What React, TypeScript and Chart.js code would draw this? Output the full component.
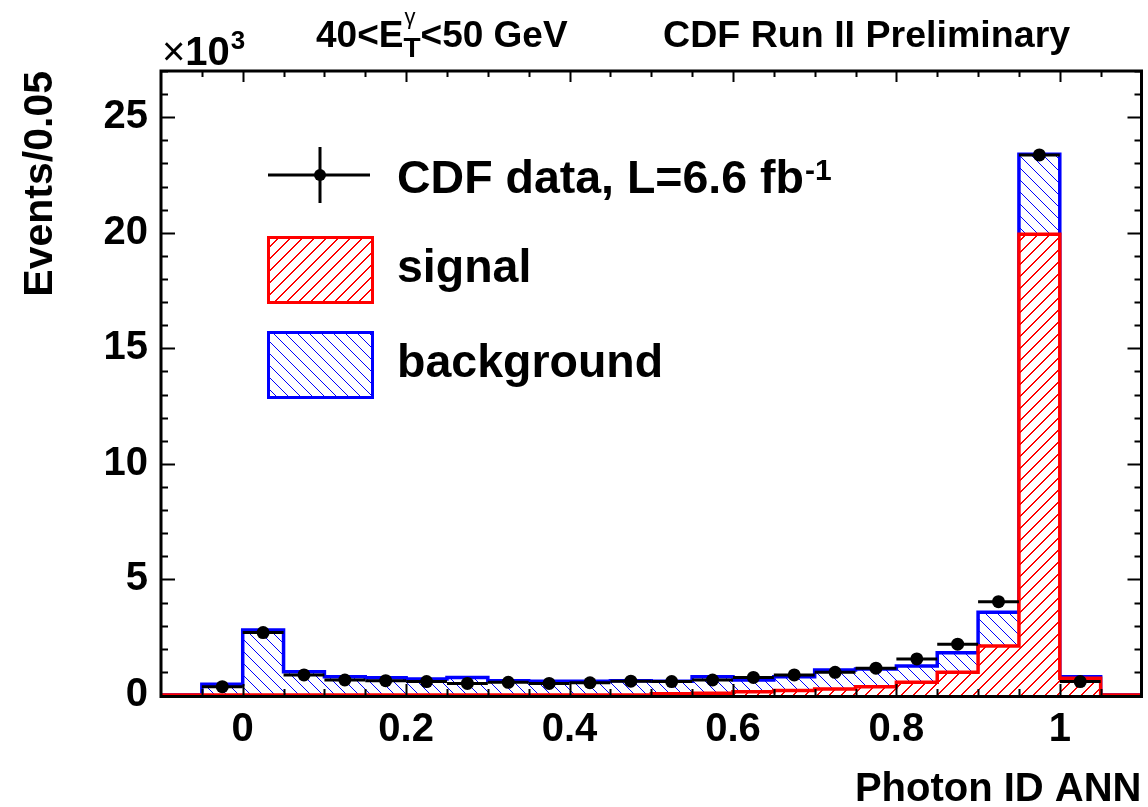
import React, { useEffect, useRef } from 'react';
import { Chart, registerables } from 'chart.js';

Chart.register(...registerables);

// ---------- data (values in units of 10^3 events per 0.05 bin) ----------
const binEdges = [-0.1, -0.05, 0, 0.05, 0.1, 0.15, 0.2, 0.25, 0.3, 0.35, 0.4, 0.45, 0.5, 0.55, 0.6, 0.65, 0.7, 0.75, 0.8, 0.85, 0.9, 0.95, 1.0, 1.05, 1.1];
const signalValues = [0, 0, 0, 0, 0, 0, 0, 0, 0, 0, 0, 0, 0.05, 0.08, 0.14, 0.19, 0.26, 0.36, 0.55, 0.98, 2.12, 19.94, 0.72, 0];
const backgroundValues = [0, 0.46, 2.81, 1.01, 0.79, 0.75, 0.69, 0.76, 0.62, 0.59, 0.59, 0.62, 0.55, 0.71, 0.51, 0.6, 0.82, 0.76, 0.7, 0.85, 1.46, 3.46, 0.07, 0];
const dataCenters = [-0.025, 0.025, 0.075, 0.125, 0.175, 0.225, 0.275, 0.325, 0.375, 0.425, 0.475, 0.525, 0.575, 0.625, 0.675, 0.725, 0.775, 0.825, 0.875, 0.925, 0.975, 1.025];
const dataValues = [0.36, 2.7, 0.87, 0.65, 0.62, 0.58, 0.5, 0.55, 0.5, 0.53, 0.6, 0.58, 0.65, 0.76, 0.87, 0.98, 1.16, 1.56, 2.2, 4.04, 23.37, 0.58];
const dataHalfWidth = 0.025;

const xTickValues = [0, 0.2, 0.4, 0.6, 0.8, 1];
const xTickLabels = ['0', '0.2', '0.4', '0.6', '0.8', '1'];
const yTickValues = [0, 5, 10, 15, 20, 25];
const yTickLabels = ['0', '5', '10', '15', '20', '25'];

const FONT = '"Liberation Sans", Arial, Helvetica, sans-serif';

function makeHatch(color: string, forward: boolean, bg: string | null, period: number, thick: number) {
  const c = document.createElement('canvas');
  c.width = period;
  c.height = period;
  const g = c.getContext('2d')!;
  if (bg) {
    g.fillStyle = bg;
    g.fillRect(0, 0, period, period);
  }
  g.fillStyle = color;
  for (let i = 0; i < period; i++) {
    const y = forward ? period - 1 - i : i;
    for (let t = 0; t < thick; t++) g.fillRect((i + t) % period, y, 1, 1);
  }
  return g.createPattern(c, 'repeat') as CanvasPattern;
}

function txt(ctx: CanvasRenderingContext2D, s: string, x: number, y: number, size: number, weight = 'bold', align: CanvasTextAlign = 'left') {
  ctx.font = `${weight} ${size}px ${FONT}`;
  ctx.textAlign = align;
  ctx.textBaseline = 'alphabetic';
  ctx.fillStyle = '#000';
  ctx.fillText(s, x, y);
  return ctx.measureText(s).width;
}

export default function App() {
  const ref = useRef<HTMLCanvasElement>(null);

  useEffect(() => {
    const canvas = ref.current!;
    const redHatch = makeHatch('#ff0000', true, '#ffffff', 12, 2);
    const blueHatch = makeHatch('#0000ff', false, null, 12, 1);

    const totalValues = signalValues.map((s, i) => s + backgroundValues[i]);
    const stepPoints = (vals: number[]) => binEdges.map((e, i) => ({ x: e, y: i < vals.length ? vals[i] : 0 }));
    const dataPoints = dataCenters.map((c, i) => ({ x: c, y: dataValues[i] }));

    const rootPlugin = {
      id: 'rootStyle',
      afterDatasetsDraw(chart: any) {
        const ctx: CanvasRenderingContext2D = chart.ctx;
        const { left, right, top, bottom } = chart.chartArea;
        const xs = chart.scales.x;
        const ys = chart.scales.y;
        ctx.save();
        // horizontal error bars of data
        ctx.strokeStyle = '#000';
        ctx.lineWidth = 3;
        dataCenters.forEach((c, i) => {
          const y = ys.getPixelForValue(dataValues[i]);
          ctx.beginPath();
          ctx.moveTo(xs.getPixelForValue(c - dataHalfWidth), y);
          ctx.lineTo(xs.getPixelForValue(c + dataHalfWidth), y);
          ctx.stroke();
        });
        // frame
        ctx.lineWidth = 3;
        ctx.beginPath();
        ctx.moveTo(left, top); ctx.lineTo(right, top);
        ctx.moveTo(left, top - 1.5); ctx.lineTo(left, bottom + 3);
        ctx.moveTo(right, top - 1.5); ctx.lineTo(right, bottom + 3);
        ctx.moveTo(left - 1.5, bottom + 1.5); ctx.lineTo(right + 1.5, bottom + 1.5);
        ctx.stroke();
        // ticks (inward)
        ctx.lineWidth = 2;
        ctx.beginPath();
        for (let k = -2; k <= 22; k++) {
          const v = k * 0.05;
          const px = Math.round(xs.getPixelForValue(v)) + 0.5;
          if (px <= left + 2 || px >= right - 2) continue;
          const len = k % 4 === 0 ? 11 : 6;
          ctx.moveTo(px, bottom); ctx.lineTo(px, bottom - len);
          ctx.moveTo(px, top); ctx.lineTo(px, top + len);
        }
        for (let k = 1; k <= 27; k++) {
          const py = Math.round(ys.getPixelForValue(k)) + 0.5;
          const len = k % 5 === 0 ? 14 : 7;
          ctx.moveTo(left, py); ctx.lineTo(left + len, py);
          ctx.moveTo(right, py); ctx.lineTo(right - len, py);
        }
        ctx.stroke();
        ctx.restore();
      },
      afterDraw(chart: any) {
        const ctx: CanvasRenderingContext2D = chart.ctx;
        ctx.save();
        // exponent
        let x = 162;
        x += txt(ctx, '\u00d7', x, 65, 40, 'normal');
        x += txt(ctx, '10', x, 65, 40);
        txt(ctx, '3', x + 1, 49, 26);
        // titles
        x = 316;
        x += txt(ctx, '40<E', x, 47, 37);
        txt(ctx, '\u03b3', x + 1, 24, 22, 'normal');
        x += txt(ctx, 'T', x, 57, 28);
        txt(ctx, '<50 GeV', x, 47, 37);
        txt(ctx, 'CDF Run II Preliminary', 663, 47, 37.6);
        // legend: data
        ctx.strokeStyle = '#000';
        ctx.lineWidth = 3;
        ctx.beginPath();
        ctx.moveTo(268, 175); ctx.lineTo(370, 175);
        ctx.moveTo(320, 147); ctx.lineTo(320, 203);
        ctx.stroke();
        ctx.fillStyle = '#000';
        ctx.beginPath();
        ctx.arc(320, 175, 6, 0, Math.PI * 2);
        ctx.fill();
        const w = txt(ctx, 'CDF data, L=6.6 fb', 397, 193, 46.5);
        txt(ctx, '-1', 397 + w + 1, 180, 30);
        // legend: signal
        ctx.fillStyle = redHatch;
        ctx.fillRect(268.5, 237.5, 104, 65);
        ctx.strokeStyle = '#ff0000';
        ctx.strokeRect(268.5, 237.5, 104, 65);
        txt(ctx, 'signal', 397, 282, 46.5);
        // legend: background
        ctx.fillStyle = '#fff';
        ctx.fillRect(268.5, 332.5, 104, 65);
        ctx.fillStyle = blueHatch;
        ctx.fillRect(268.5, 332.5, 104, 65);
        ctx.strokeStyle = '#0000ff';
        ctx.strokeRect(268.5, 332.5, 104, 65);
        txt(ctx, 'background', 397, 377, 46.5);
        ctx.restore();
      },
    };

    const chart = new Chart(canvas, {
      type: 'line',
      data: {
        datasets: [
          {
            type: 'scatter',
            label: 'CDF data, L=6.6 fb-1',
            data: dataPoints,
            pointRadius: 6.5,
            pointBackgroundColor: '#000',
            pointBorderColor: '#000',
            pointBorderWidth: 0,
            showLine: false,
          } as any,
          {
            label: 'signal',
            data: stepPoints(signalValues),
            stepped: true,
            borderColor: '#ff0000',
            borderWidth: 3.5,
            pointRadius: 0,
            fill: 'origin',
            backgroundColor: redHatch,
          },
          {
            label: 'background',
            data: stepPoints(totalValues),
            stepped: true,
            borderColor: '#0000ff',
            borderWidth: 3.5,
            pointRadius: 0,
            fill: 'origin',
            backgroundColor: blueHatch,
          },
        ],
      },
      options: {
        animation: false,
        responsive: false,
        maintainAspectRatio: false,
        events: [],
        layout: { padding: { top: 71, right: 3, left: 0, bottom: 0 } },
        plugins: {
          legend: { display: false },
          tooltip: { enabled: false },
        },
        scales: {
          x: {
            type: 'linear',
            position: 'bottom',
            min: -0.1,
            max: 1.1,
            afterBuildTicks: (s: any) => { s.ticks = xTickValues.map((v) => ({ value: v })); },
            afterFit: (s: any) => { s.height = 112; },
            ticks: {
              autoSkip: false,
              maxRotation: 0,
              padding: 11,
              color: '#000',
              font: { family: FONT, size: 40, weight: 'bold' },
              callback: (v: any) => { const i = xTickValues.findIndex((t) => Math.abs(t - v) < 1e-9); return i >= 0 ? xTickLabels[i] : ''; },
            },
            grid: { display: false, drawTicks: false },
            border: { display: false },
            title: {
              display: true,
              text: 'Photon ID ANN',
              align: 'end',
              color: '#000',
              font: { family: FONT, size: 40, weight: 'bold', lineHeight: 0.85 },
              padding: { top: 0, bottom: 0 },
            },
          },
          y: {
            type: 'linear',
            position: 'left',
            min: 0,
            max: 27,
            afterBuildTicks: (s: any) => { s.ticks = yTickValues.map((v) => ({ value: v })); },
            afterFit: (s: any) => { s.width = 161; },
            ticks: {
              padding: 13,
              color: '#000',
              font: { family: FONT, size: 40, weight: 'bold' },
              callback: (v: any) => { const i = yTickValues.indexOf(v); return i >= 0 ? yTickLabels[i] : ''; },
            },
            grid: { display: false, drawTicks: false },
            border: { display: false },
            title: {
              display: true,
              text: 'Events/0.05',
              align: 'end',
              color: '#000',
              font: { family: FONT, size: 41, weight: 'bold', lineHeight: 1.2 },
              padding: { top: 16, bottom: 0 },
            },
          },
        },
      },
      plugins: [rootPlugin],
    } as any);

    return () => chart.destroy();
  }, []);

  return (
    <div style={{ position: 'fixed', left: 0, top: 0, width: 1148, height: 807, background: '#fff' }}>
      <canvas ref={ref} width={1148} height={807} style={{ display: 'block', width: 1148, height: 807 }} />
    </div>
  );
}
